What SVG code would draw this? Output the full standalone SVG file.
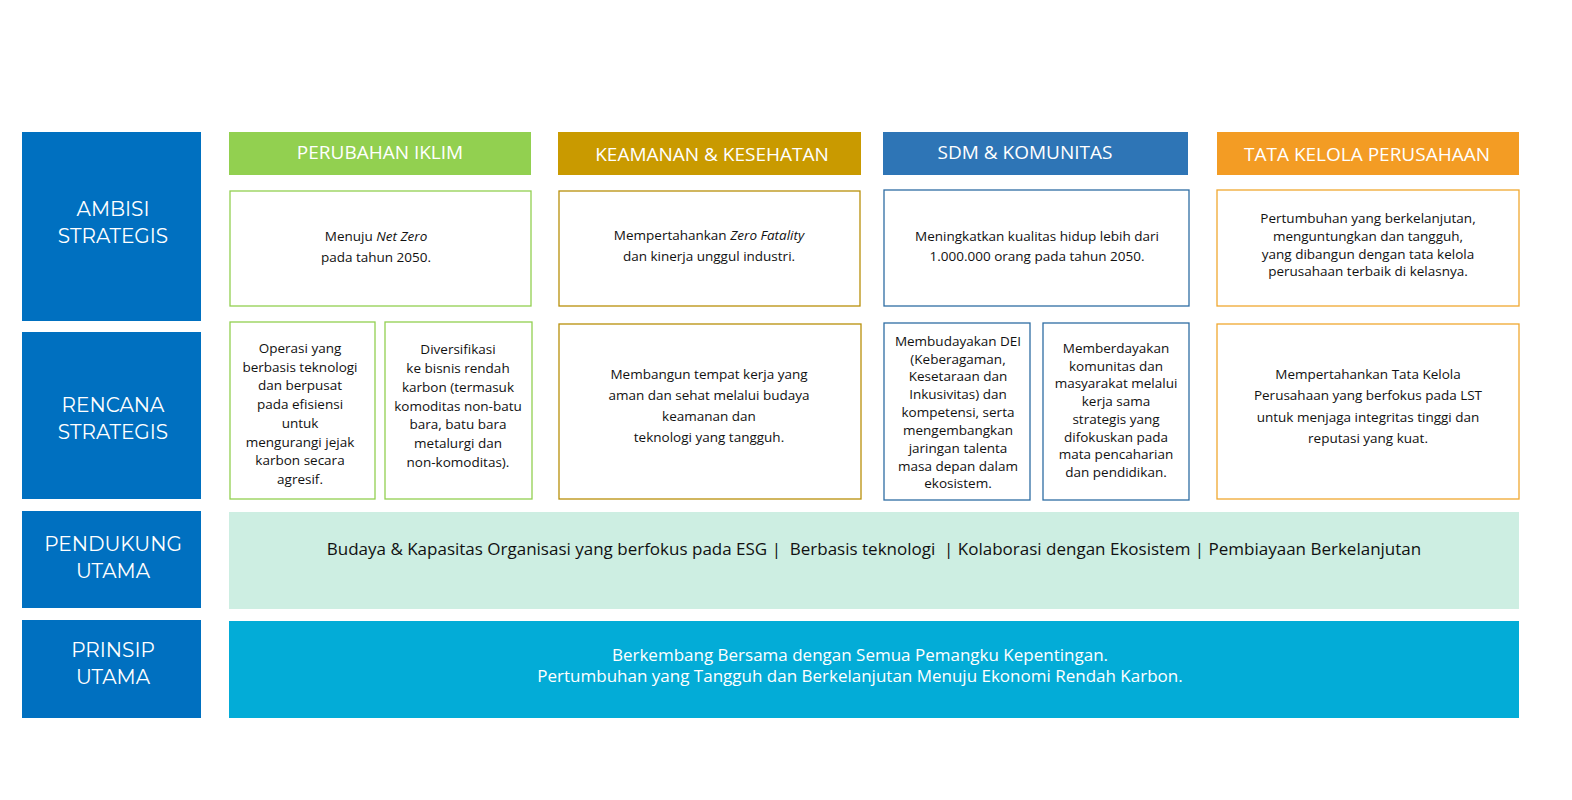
<svg xmlns="http://www.w3.org/2000/svg" width="1572" height="800" viewBox="0 0 1572 800">
<style>
.lbl{fill:#0070c0}
.lt{font-family:"Montserrat","Open Sans","Liberation Sans",sans-serif;font-size:20px;fill:#fff;text-anchor:middle}
.ht{font-family:"Open Sans","Liberation Sans",sans-serif;font-size:19px;fill:#fff;text-anchor:middle}
.bt{font-family:"Open Sans","Liberation Sans",sans-serif;font-size:13.5px;fill:#111;text-anchor:middle}
.box{fill:#fff;stroke-width:1.3}
.g{stroke:#92d050}.y{stroke:#b8900a}.b{stroke:#2e6da4}.o{stroke:#f0a830}
.pt{font-family:"Open Sans","Liberation Sans",sans-serif;font-size:17px;text-anchor:middle}
</style>
<rect width="1572" height="800" fill="#fff"/>

<g id="label-ambisi"><rect class="lbl" x="22" y="132" width="179" height="189"/><text class="lt" x="113" y="216">AMBISI</text><text class="lt" x="113" y="243">STRATEGIS</text></g>
<g id="label-rencana"><rect class="lbl" x="22" y="332" width="179" height="167"/><text class="lt" x="113" y="412">RENCANA</text><text class="lt" x="113" y="439">STRATEGIS</text></g>
<g id="label-pendukung"><rect class="lbl" x="22" y="511" width="179" height="97"/><text class="lt" x="113" y="551">PENDUKUNG</text><text class="lt" x="113" y="578">UTAMA</text></g>
<g id="label-prinsip"><rect class="lbl" x="22" y="620" width="179" height="98"/><text class="lt" x="113" y="657">PRINSIP</text><text class="lt" x="113" y="684">UTAMA</text></g>

<g id="hdr-iklim"><rect x="229" y="132" width="302" height="43" fill="#92d050"/><text class="ht" x="380" y="159">PERUBAHAN IKLIM</text></g>
<g id="hdr-keamanan"><rect x="558" y="132" width="303" height="43" fill="#c99a00"/><text class="ht" x="712" y="161">KEAMANAN &amp; KESEHATAN</text></g>
<g id="hdr-sdm"><rect x="883" y="132" width="305" height="43" fill="#2e75b6"/><text class="ht" x="1025" y="159">SDM &amp; KOMUNITAS</text></g>
<g id="hdr-tata"><rect x="1217" y="132" width="302" height="43" fill="#f39c24"/><text class="ht" x="1367" y="161">TATA KELOLA PERUSAHAAN</text></g>

<g id="amb-iklim"><rect class="box g" x="230" y="191" width="301" height="115"/>
<text class="bt" x="376" y="241">Menuju <tspan font-style="italic">Net Zero</tspan></text>
<text class="bt" x="376" y="262">pada tahun 2050.</text></g>
<g id="amb-keamanan"><rect class="box y" x="559" y="191" width="301" height="115"/>
<text class="bt" x="709" y="240">Mempertahankan <tspan font-style="italic">Zero Fatality</tspan></text>
<text class="bt" x="709" y="261">dan kinerja unggul industri.</text></g>
<g id="amb-sdm"><rect class="box b" x="884" y="190" width="305" height="116"/>
<text class="bt" x="1037" y="241">Meningkatkan kualitas hidup lebih dari</text>
<text class="bt" x="1037" y="261">1.000.000 orang pada tahun 2050.</text></g>
<g id="amb-tata"><rect class="box o" x="1217" y="190" width="302" height="116"/>
<text class="bt" x="1368" y="223">Pertumbuhan yang berkelanjutan,</text>
<text class="bt" x="1368" y="241">menguntungkan dan tangguh,</text>
<text class="bt" x="1368" y="259">yang dibangun dengan tata kelola</text>
<text class="bt" x="1368" y="276">perusahaan terbaik di kelasnya.</text></g>

<g id="ren-iklim-1"><rect class="box g" x="230" y="322" width="145" height="177"/>
<text class="bt" x="300" y="353">Operasi yang</text>
<text class="bt" x="300" y="372">berbasis teknologi</text>
<text class="bt" x="300" y="390">dan berpusat</text>
<text class="bt" x="300" y="409">pada efisiensi</text>
<text class="bt" x="300" y="428">untuk</text>
<text class="bt" x="300" y="447">mengurangi jejak</text>
<text class="bt" x="300" y="465">karbon secara</text>
<text class="bt" x="300" y="484">agresif.</text></g>
<g id="ren-iklim-2"><rect class="box g" x="385" y="322" width="147" height="177"/>
<text class="bt" x="458" y="354">Diversifikasi</text>
<text class="bt" x="458" y="373">ke bisnis rendah</text>
<text class="bt" x="458" y="392">karbon (termasuk</text>
<text class="bt" x="458" y="411">komoditas non-batu</text>
<text class="bt" x="458" y="429">bara, batu bara</text>
<text class="bt" x="458" y="448">metalurgi dan</text>
<text class="bt" x="458" y="467">non-komoditas).</text></g>
<g id="ren-keamanan"><rect class="box y" x="559" y="324" width="302" height="175"/>
<text class="bt" x="709" y="379">Membangun tempat kerja yang</text>
<text class="bt" x="709" y="400">aman dan sehat melalui budaya</text>
<text class="bt" x="709" y="421">keamanan dan</text>
<text class="bt" x="709" y="442">teknologi yang tangguh.</text></g>
<g id="ren-sdm-1"><rect class="box b" x="884" y="323" width="146" height="177"/>
<text class="bt" x="958" y="346">Membudayakan DEI</text>
<text class="bt" x="958" y="364">(Keberagaman,</text>
<text class="bt" x="958" y="381">Kesetaraan dan</text>
<text class="bt" x="958" y="399">Inkusivitas) dan</text>
<text class="bt" x="958" y="417">kompetensi, serta</text>
<text class="bt" x="958" y="435">mengembangkan</text>
<text class="bt" x="958" y="453">jaringan talenta</text>
<text class="bt" x="958" y="471">masa depan dalam</text>
<text class="bt" x="958" y="488">ekosistem.</text></g>
<g id="ren-sdm-2"><rect class="box b" x="1043" y="323" width="146" height="177"/>
<text class="bt" x="1116" y="353">Memberdayakan</text>
<text class="bt" x="1116" y="371">komunitas dan</text>
<text class="bt" x="1116" y="388">masyarakat melalui</text>
<text class="bt" x="1116" y="406">kerja sama</text>
<text class="bt" x="1116" y="424">strategis yang</text>
<text class="bt" x="1116" y="442">difokuskan pada</text>
<text class="bt" x="1116" y="459">mata pencaharian</text>
<text class="bt" x="1116" y="477">dan pendidikan.</text></g>
<g id="ren-tata"><rect class="box o" x="1217" y="324" width="302" height="175"/>
<text class="bt" x="1368" y="379">Mempertahankan Tata Kelola</text>
<text class="bt" x="1368" y="400">Perusahaan yang berfokus pada LST</text>
<text class="bt" x="1368" y="422">untuk menjaga integritas tinggi dan</text>
<text class="bt" x="1368" y="443">reputasi yang kuat.</text></g>

<g id="pendukung"><rect x="229" y="512" width="1290" height="97" fill="#cdeee2"/>
<text class="pt" x="874" y="555" fill="#111" xml:space="preserve">Budaya &amp; Kapasitas Organisasi yang berfokus pada ESG |  Berbasis teknologi  | Kolaborasi dengan Ekosistem | Pembiayaan Berkelanjutan</text></g>
<g id="prinsip"><rect x="229" y="621" width="1290" height="97" fill="#03acd7"/>
<text class="pt" x="860" y="661" fill="#fff" font-size="17.5">Berkembang Bersama dengan Semua Pemangku Kepentingan.</text>
<text class="pt" x="860" y="682" fill="#fff" font-size="17.5">Pertumbuhan yang Tangguh dan Berkelanjutan Menuju Ekonomi Rendah Karbon.</text></g>
<g id="connectors"></g>
</svg>
